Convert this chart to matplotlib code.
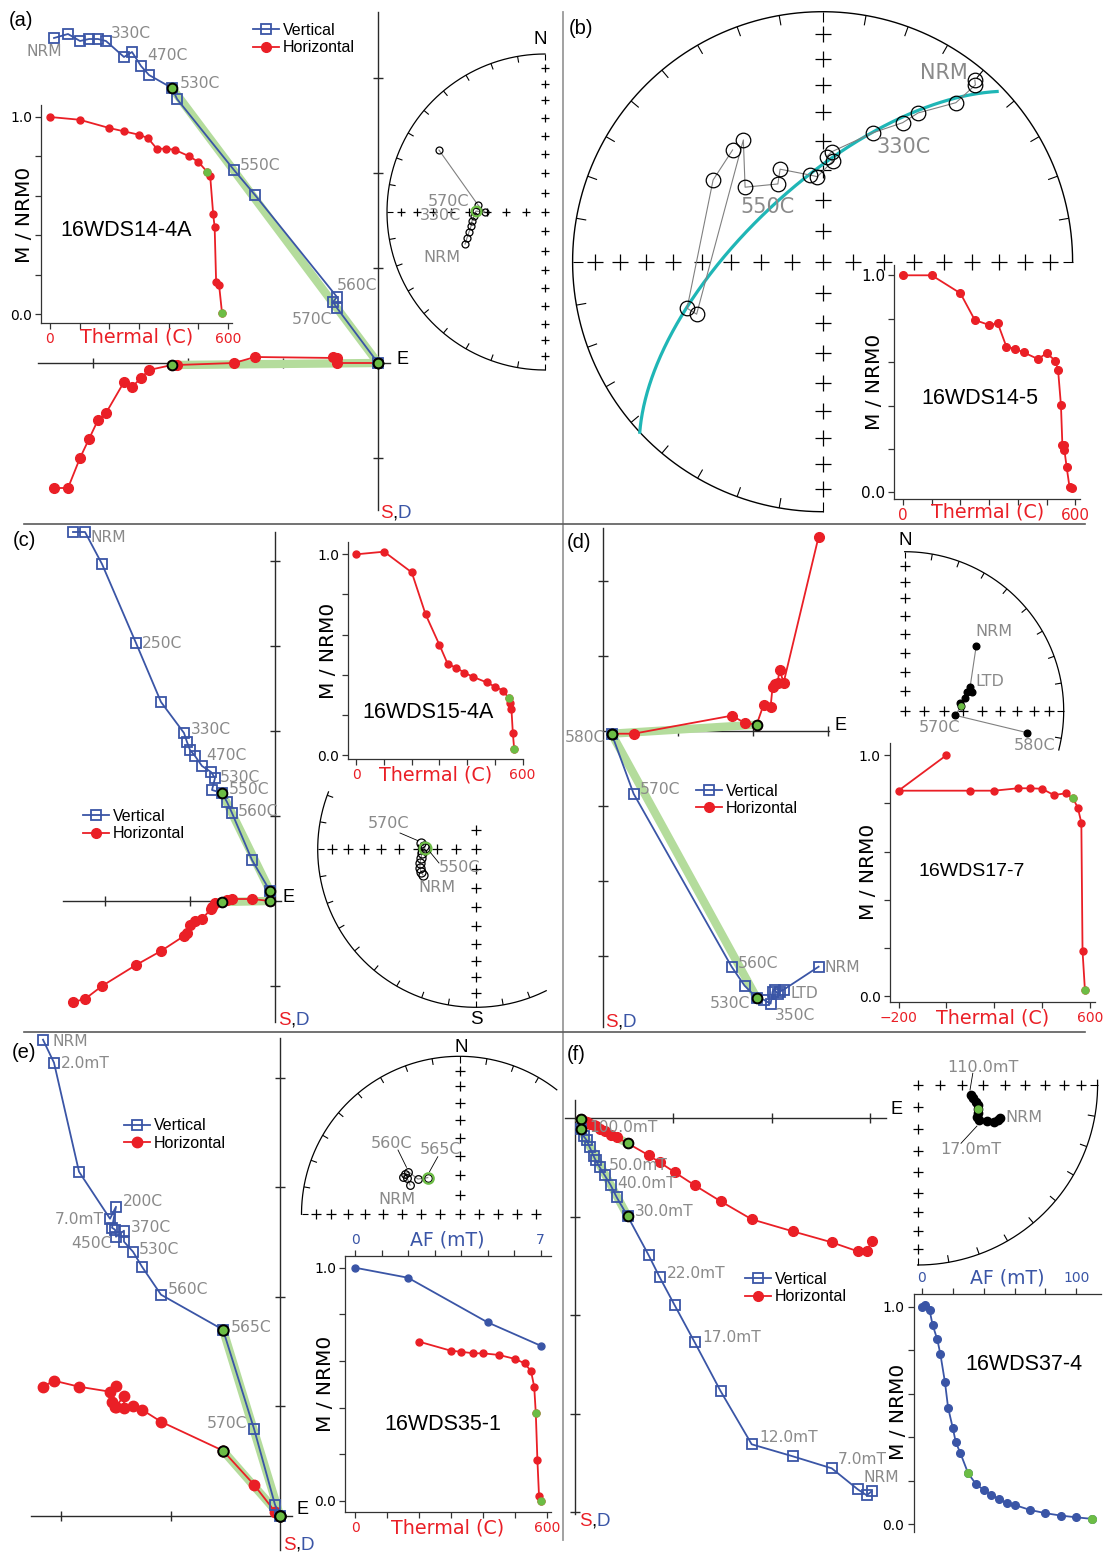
import numpy as np
import matplotlib
matplotlib.use('Agg')
import matplotlib.pyplot as plt
from matplotlib.collections import LineCollection

W, H = 1107, 1555
BLUE = '#3a55a6'; RED = '#ea1f26'; GREEN = '#6cbd45'; FIT = '#b4dc9c'
GRAY = '#8a8a8a'; AXC = '#2a2a2a'; CYAN = '#1fb6b6'; SPC = '#333333'
DEJ = 'DejaVu Sans'; LIB = 'Liberation Sans'

# ======================= DATA =======================
# (a) 16WDS14-4A
zij_a_east = [-324, -310, -298, -289, -280, -272, -254, -246, -237, -229, -206, -201, -144, -123, -41, -45, -41, 0]
zij_a_north = [-125, -125, -95, -76, -57, -50, -19, -24, -15, -7, -2, -2, 0, 6, 5, 6, 0, 0]
zij_a_up = [325, 329, 322, 324, 324, 322, 306, 311, 297, 288, 275, 264, 193, 168, 66, 61, 55, 0]
zij_a_fit = (10, 17)
st_a_x = [-0.506, -0.494, -0.481, -0.468, -0.462, -0.449, -0.437, -0.380, -0.424, -0.671]
st_a_y = [-0.203, -0.165, -0.127, -0.089, -0.057, -0.025, 0.006, 0.0, 0.044, 0.392]
st_a_green = 6
dem_a_T = [0, 100, 200, 250, 300, 330, 360, 390, 420, 470, 500, 530, 540, 550, 555, 560, 570, 580]
dem_a_M = [1.0, 0.986, 0.944, 0.927, 0.910, 0.893, 0.839, 0.839, 0.834, 0.800, 0.772, 0.721, 0.699, 0.508, 0.440, 0.161, 0.146, 0.003]
dem_a_green = [11, 17]

# (b) 16WDS14-5
st_b_x = [0.609, 0.611, 0.533, 0.382, 0.320, 0.202, 0.037, 0.016, 0.041, -0.021, -0.052, -0.170, -0.179, -0.310, -0.317, -0.504, -0.542, -0.438, -0.360]
st_b_y = [0.727, 0.707, 0.636, 0.595, 0.556, 0.516, 0.440, 0.420, 0.403, 0.340, 0.347, 0.370, 0.311, 0.298, 0.487, -0.210, -0.186, 0.327, 0.447]
gc_b_dipdir = 317.0
gc_b_dip = 65.5
dem_b_T = [0, 100, 200, 250, 300, 330, 360, 390, 420, 470, 500, 530, 540, 550, 555, 560, 562, 570, 580, 590]
dem_b_M = [1.0, 1.0, 0.917, 0.794, 0.771, 0.779, 0.671, 0.661, 0.645, 0.614, 0.641, 0.607, 0.564, 0.402, 0.218, 0.218, 0.195, 0.115, 0.023, 0.018]

# (c) 16WDS15-4A
zij_c_east = [-202, -190, -173, -139, -114, -91, -88, -85, -80, -73, -64, -60, -63, -53, -48, -43, -23, -5]
zij_c_north = [-101, -98, -85, -64, -50, -35, -32, -24, -20, -18, -8, -2, -6, -1, 1, 2, 2, 0]
zij_c_up = [369, 369, 337, 258, 199, 168, 159, 151, 145, 135, 129, 123, 111, 108, 99, 88, 41, 10]
zij_c_fit = (13, 17)
st_c_x = [-0.334, -0.346, -0.353, -0.353, -0.346, -0.340, -0.321, -0.327, -0.346]
st_c_y = [-0.162, -0.143, -0.118, -0.086, -0.055, -0.023, 0.008, 0.021, 0.040]
st_c_green = 6
dem_c_T = [0, 100, 200, 250, 300, 330, 360, 390, 420, 470, 500, 530, 550, 555, 560, 565, 570]
dem_c_M = [1.0, 1.013, 0.910, 0.701, 0.549, 0.454, 0.436, 0.411, 0.391, 0.363, 0.342, 0.322, 0.284, 0.259, 0.231, 0.113, 0.030]
dem_c_green = [12, 16]

# (d) 16WDS17-7
zij_d_east = [216, 181, 177, 175, 172, 170, 168, 161, 154, 142, 129, 31, 9]
zij_d_north = [194, 48, 61, 48, 47, 44, 24, 26, 6, 8, 15, -3, -3]
zij_d_up = [-236, -259, -261, -263, -259, -261, -273, -269, -267, -255, -236, -63, -3]
zij_d_fit = (8, 12)
st_d_x = [0.450, 0.411, 0.421, 0.389, 0.378, 0.345, 0.356, 0.318, 0.769]
st_d_y = [0.409, 0.147, 0.116, 0.119, 0.078, 0.047, 0.031, -0.029, -0.138]
st_d_green = 6
dem_d_T = [0, -200, 100, 200, 300, 350, 400, 450, 500, 530, 550, 565, 570, 580]
dem_d_M = [1.0, 0.853, 0.853, 0.853, 0.863, 0.863, 0.861, 0.835, 0.842, 0.821, 0.783, 0.720, 0.187, 0.025]
dem_d_green = [9, 13]

# (e) 16WDS35-1
zij_e_east = [-237, -226, -201, -170, -164, -168, -165, -164, -156, -156, -147, -138, -119, -57, -26, -5, 0]
zij_e_north = [129, 135, 129, 124, 130, 114, 109, 109, 120, 108, 110, 106, 94, 65, 31, 4, 0]
zij_e_up = [476, 453, 344, 297, 309, 288, 286, 279, 285, 274, 264, 249, 221, 186, 87, 11, 0]
zij_e_fit = (13, 16)
st_e_x = [-0.313, -0.331, -0.358, -0.342, -0.324, -0.263, -0.201]
st_e_y = [0.185, 0.228, 0.238, 0.255, 0.270, 0.223, 0.232]
st_e_green = 6
dem_e_T = [200, 300, 330, 370, 400, 450, 500, 530, 550, 560, 565, 570, 575, 580]
dem_e_M = [0.683, 0.644, 0.640, 0.633, 0.633, 0.626, 0.609, 0.590, 0.557, 0.490, 0.376, 0.176, 0.023, 0.001]
dem_e_green = [10, 13]
dem_e_AF = [0, 2, 5, 7]
dem_e_AFM = [1.0, 0.957, 0.766, 0.666]

# (f) 16WDS37-4
zij_f_east = [297, 292, 283, 257, 218, 177, 146, 120, 100, 85, 74, 53, 42, 36, 30, 25, 21, 19, 15, 12, 9, 6]
zij_f_north = [-123, -133, -133, -124, -113, -101, -83, -67, -54, -44, -37, -25, -19, -17, -13, -11, -8, -7, -6, -4, -3, -1]
zij_f_up = [-373, -377, -371, -350, -338, -326, -273, -224, -187, -159, -137, -98, -79, -67, -57, -49, -42, -38, -29, -22, -18, -11]
zij_f_fit = (11, 21)
st_f_x = [0.459, 0.446, 0.427, 0.388, 0.339, 0.330, 0.334, 0.334, 0.334, 0.324, 0.310, 0.295]
st_f_y = [-0.185, -0.194, -0.204, -0.198, -0.194, -0.179, -0.157, -0.135, -0.111, -0.093, -0.074, -0.056]
st_f_green = 7
dem_f_AF = [0, 2, 5, 7, 10, 12, 15, 17, 20, 22, 25, 30, 35, 40, 45, 50, 55, 60, 70, 80, 90, 100, 110]
dem_f_M = [1.0, 1.008, 0.985, 0.916, 0.850, 0.783, 0.652, 0.536, 0.444, 0.377, 0.326, 0.234, 0.185, 0.158, 0.135, 0.116, 0.096, 0.089, 0.066, 0.051, 0.040, 0.032, 0.025]
dem_f_green = [11, 22]

# ======================= HELPERS =======================
fig = plt.figure(figsize=(W / 100, H / 100), dpi=100)
fig.patch.set_facecolor('white')


def px_axes(l, t, r, b):
    ax = fig.add_axes([l / W, 1 - b / H, (r - l) / W, (b - t) / H])
    ax.patch.set_visible(False)
    return ax


def lmap(p0, v0, p1, v1, p):
    return v0 + (p - p0) * (v1 - v0) / (p1 - p0)


def zijderveld(origin, box, tick, xr, yr, east, north, up, fit, ms=7):
    l, t, r, b = box
    ox, oy = origin
    ax = px_axes(l, t, r, b)
    ax.set_xlim(l - ox, r - ox)
    ax.set_ylim(oy - b, oy - t)
    ax.axis('off')
    ax.plot(xr, [0, 0], color=AXC, lw=1.0, clip_on=False, zorder=1)
    ax.plot([0, 0], yr, color=AXC, lw=1.0, clip_on=False, zorder=1)
    kx = [k * tick for k in range(-6, 7) if k != 0 and xr[0] < k * tick < xr[1]]
    ky = [k * tick for k in range(-6, 7) if k != 0 and yr[0] < k * tick < yr[1]]
    ax.plot(kx, [0] * len(kx), ls='none', marker='|', ms=7, mew=1.0, color=AXC, clip_on=False)
    ax.plot([0] * len(ky), ky, ls='none', marker='_', ms=7, mew=1.0, color=AXC, clip_on=False)
    g0, g1 = fit
    ax.plot([east[g0], east[g1]], [up[g0], up[g1]], color=FIT, lw=6, zorder=2, clip_on=False)
    ax.plot([east[g0], east[g1]], [north[g0], north[g1]], color=FIT, lw=6, zorder=2, clip_on=False)
    hh, = ax.plot(east, north, color=RED, lw=1.3, marker='o', ms=ms, mec=RED, zorder=3, clip_on=False)
    hv, = ax.plot(east, up, color=BLUE, lw=1.3, marker='s', ms=ms, mfc='none', mec=BLUE, mew=1.3,
                  zorder=4, clip_on=False)
    for i in fit:
        ax.plot([east[i], east[i]], [north[i], up[i]], ls='none', marker='o', ms=ms, mfc=GREEN,
                mec='black', mew=1.4, zorder=5, clip_on=False)
    return ax, hv, hh


def legend(ax, hv, hh, x, y):
    ax.legend([hv, hh], ['Vertical', 'Horizontal'], loc='upper left',
              bbox_to_anchor=(x / W, 1 - y / H), bbox_transform=fig.transFigure, frameon=False,
              prop=dict(family=LIB, size=11.5), handlelength=1.6, handletextpad=0.25,
              labelspacing=0.15, borderpad=0, borderaxespad=0)


EA = np.sqrt(2) * np.sin(np.radians(5 * np.arange(1, 9)))


def stereonet(center, R, arc, arms, cms=6.5, lw=0.9):
    cx, cy = center
    ax = px_axes(cx - 1.1 * R, cy - 1.1 * R, cx + 1.1 * R, cy + 1.1 * R)
    ax.set_xlim(-1.1, 1.1)
    ax.set_ylim(-1.1, 1.1)
    ax.axis('off')
    th = np.radians(np.linspace(arc[0], arc[1], 500))
    ax.plot(np.cos(th), np.sin(th), color='k', lw=lw, clip_on=False)
    segs = []
    for d in range(int(np.ceil(arc[0] / 10.0)) * 10, int(np.floor(arc[1])) + 1, 10):
        a = np.radians(d)
        segs.append([(np.cos(a), np.sin(a)), (0.96 * np.cos(a), 0.96 * np.sin(a))])
    ax.add_collection(LineCollection(segs, colors='k', linewidths=0.8))
    dirs = {'N': (0, 1), 'S': (0, -1), 'E': (1, 0), 'W': (-1, 0)}
    xs, ys = [0.0], [0.0]
    for k, n in arms.items():
        dx, dy = dirs[k]
        xs += list(dx * EA[:n])
        ys += list(dy * EA[:n])
    ax.plot(xs, ys, ls='none', marker='+', ms=cms, mew=0.9, color='k', clip_on=False)
    return ax


def st_points(ax, x, y, g, ms, filled, gstyle):
    ax.plot(x, y, color='#808080', lw=0.8, zorder=3, clip_on=False)
    if filled:
        ax.plot(x, y, ls='none', marker='o', ms=ms, mfc='k', mec='k', zorder=4, clip_on=False)
    else:
        ax.plot(x, y, ls='none', marker='o', ms=ms, mfc='none', mec='k', mew=0.9, zorder=4, clip_on=False)
    if gstyle == 'ring':
        ax.plot([x[g]], [y[g]], ls='none', marker='o', ms=ms + 2, mfc='none', mec=GREEN, mew=1.6, zorder=5)
    elif gstyle == 'dot':
        ax.plot([x[g]], [y[g]], ls='none', marker='o', ms=ms - 1, mfc=GREEN, mec=GREEN, zorder=5)


def demag_axes(box, xref, yref, xticks, xlabels, xcolor, top=False, lsize=10):
    l, t, r, b = box
    ax = px_axes(l, t, r, b)
    (p0, v0), (p1, v1) = xref
    ax.set_xlim(lmap(p0, v0, p1, v1, l), lmap(p0, v0, p1, v1, r))
    (q0, w0), (q1, w1) = yref
    ax.set_ylim(lmap(q0, w0, q1, w1, b), lmap(q0, w0, q1, w1, t))
    ax.spines['right'].set_visible(False)
    if top:
        ax.spines['bottom'].set_visible(False)
        ax.xaxis.set_ticks_position('top')
        ax.xaxis.set_label_position('top')
    else:
        ax.spines['top'].set_visible(False)
    for s in ax.spines.values():
        s.set_linewidth(0.9)
        s.set_color(SPC)
    ax.set_xticks(xticks)
    ax.set_xticklabels(xlabels)
    ax.set_yticks([0, 0.2, 0.4, 0.6, 0.8, 1.0])
    ax.set_yticklabels(['0.0', '', '', '', '', '1.0'])
    ax.tick_params(direction='out', length=4, width=0.9, labelsize=lsize, pad=2.5, color=SPC)
    ax.tick_params(axis='x', labelcolor=xcolor)
    return ax


def ends(vals, first, last):
    return [first if i == 0 else (last if i == len(vals) - 1 else '') for i in range(len(vals))]


def demag_plot(ax, T, M, green, color, ms=5):
    ax.plot(T, M, color=color, lw=1.3, marker='o', ms=ms, mec=color, clip_on=False, zorder=3)
    ax.plot([T[i] for i in green], [M[i] for i in green], ls='none', marker='o', ms=ms,
            mfc=GREEN, mec=GREEN, clip_on=False, zorder=4)


# ======================= PANEL (a) =======================
ax, hv, hh = zijderveld((378, 363), (0, 0, 560, 520), 95, (-340, 12), (-147, 351),
                        zij_a_east, zij_a_north, zij_a_up, zij_a_fit)
legend(ax, hv, hh, 253, 23)
sa = stereonet((545, 212), 158, (90, 270), {'N': 8, 'S': 8, 'W': 8}, cms=6)
st_points(sa, st_a_x, st_a_y, st_a_green, 5, False, 'ring')
ia = demag_axes((41, 105, 232, 323), ((50, 0), (228, 600)), ((117, 1.0), (314, 0.0)),
                list(range(0, 601, 100)), ends(range(0, 601, 100), '0', '600'), RED)
demag_plot(ia, dem_a_T, dem_a_M, dem_a_green, RED)

# ======================= PANEL (b) =======================
sb = stereonet((822.6, 261.7), 250, (0, 270), {'N': 8, 'S': 8, 'E': 8, 'W': 8}, cms=11, lw=1.0)
# great circle of the remagnetisation plane (equal-area, lower hemisphere)
dd, dp = np.radians(gc_b_dipdir), np.radians(gc_b_dip)
strike = np.array([np.sin(dd + np.pi / 2), np.cos(dd + np.pi / 2), 0.0])
dipv = np.array([np.sin(dd) * np.cos(dp), np.cos(dd) * np.cos(dp), np.sin(dp)])
tt = np.linspace(0.054, np.pi, 400)
v = np.outer(np.cos(tt), strike) + np.outer(np.sin(tt), dipv)
hz = np.hypot(v[:, 0], v[:, 1])
rr = np.sqrt(np.clip(1 - v[:, 2], 0, None))
sb.plot(rr * v[:, 0] / hz, rr * v[:, 1] / hz, color=CYAN, lw=2.3, zorder=2)
st_points(sb, st_b_x, st_b_y, 0, 10.5, False, None)
ib = demag_axes((894, 265, 1080.5, 499), ((903, 0), (1075.3, 600)), ((275.3, 1.0), (492.3, 0.0)),
                list(range(0, 601, 100)), ends(range(0, 601, 100), '0', '600'), RED, lsize=11)
demag_plot(ib, dem_b_T, dem_b_M, [], RED, ms=5.5)

# ======================= PANEL (c) =======================
ax, hv, hh = zijderveld((275, 901), (0, 525, 560, 1030), 85, (-212, 6), (-121, 369),
                        zij_c_east, zij_c_north, zij_c_up, zij_c_fit)
legend(ax, hv, hh, 83, 809)
sc = stereonet((475.7, 849.3), 158, (158.7, 296.5), {'N': 1, 'S': 8, 'W': 8}, cms=6.5)
st_points(sc, st_c_x, st_c_y, st_c_green, 6.5, False, 'ring')
ic = demag_axes((348, 541.7, 523, 759.3), ((356.4, 0), (522.5, 600)), ((554.3, 1.0), (755.3, 0.0)),
                list(range(0, 601, 100)), ends(range(0, 601, 100), '0', '600'), RED)
demag_plot(ic, dem_c_T, dem_c_M, dem_c_green, RED)

# ======================= PANEL (d) =======================
ax, hv, hh = zijderveld((602.6, 730.7), (563, 525, 1107, 1030), 75, (0, 226), (-296, 203),
                        zij_d_east, zij_d_north, zij_d_up, zij_d_fit)
legend(ax, hv, hh, 696, 783.5)
sd_ = stereonet((904.7, 710.7), 159, (-14.3, 90), {'N': 8, 'E': 8}, cms=6.5)
st_points(sd_, st_d_x, st_d_y, st_d_green, 4.8, True, 'dot')
idd = demag_axes((889.7, 742.7, 1094.5, 1001.7), ((898.5, -200), (1089.7, 600)), ((755.3, 1.0), (996, 0.0)),
                 [-200, 0, 200, 400, 600], ['\u2212200', '', '', '', '600'], RED)
demag_plot(idd, dem_d_T, dem_d_M, dem_d_green, RED)

# ======================= PANEL (e) =======================
ax, hv, hh = zijderveld((280, 1515.7), (0, 1032, 560, 1555), 109.5, (-249, 12), (-34, 478),
                        zij_e_east, zij_e_north, zij_e_up, zij_e_fit, ms=7.5)
legend(ax, hv, hh, 124, 1118.5)
se = stereonet((459.5, 1214.3), 158, (52, 180), {'N': 8, 'W': 8, 'E': 4}, cms=6.5)
st_points(se, st_e_x, st_e_y, st_e_green, 5.5, False, 'ring')
ie = demag_axes((345.2, 1256, 550.6, 1512.3), ((355, 0), (547, 600)), ((1267.7, 1.0), (1501, 0.0)),
                list(range(0, 601, 100)), ends(range(0, 601, 100), '0', '600'), RED)
demag_plot(ie, dem_e_T, dem_e_M, dem_e_green, RED)
ie2 = ie.twiny()
ie2.patch.set_visible(False)
ie2.set_xlim(lmap(355, 0, 540.5, 7, 345.2), lmap(355, 0, 540.5, 7, 550.6))
for s in ['left', 'right', 'bottom']:
    ie2.spines[s].set_visible(False)
ie2.spines['top'].set_linewidth(0.9)
ie2.spines['top'].set_color(SPC)
ie2.set_xticks(list(range(0, 8)))
ie2.set_xticklabels(ends(range(0, 8), '0', '7'))
ie2.tick_params(direction='out', length=4, width=0.9, labelsize=10, pad=2.5, labelcolor=BLUE, color=SPC)
demag_plot(ie2, dem_e_AF, dem_e_AFM, [], BLUE)

# ======================= PANEL (f) =======================
ax, hv, hh = zijderveld((574.7, 1118.3), (563, 1032, 1107, 1555), 98.5, (-10, 311), (-396, 18),
                        zij_f_east, zij_f_north, zij_f_up, zij_f_fit)
legend(ax, hv, hh, 745, 1272)
sf = stereonet((917.6, 1085), 180, (-90, 1.5), {'E': 8, 'S': 8}, cms=7.5)
st_points(sf, st_f_x, st_f_y, st_f_green, 6, True, 'dot')
iff = demag_axes((913.5, 1294.3, 1100.8, 1532), ((921.8, 0), (1076.4, 100)), ((1306.7, 1.0), (1524.3, 0.0)),
                 list(range(0, 101, 20)), ends(range(0, 101, 20), '0', '100'), BLUE, top=True)
demag_plot(iff, dem_f_AF, dem_f_M, dem_f_green, BLUE, ms=5.5)

# ======================= OVERLAY (text, separators) =======================
base = fig.add_axes([0, 0, 1, 1], zorder=20)
base.set_xlim(0, W)
base.set_ylim(H, 0)
base.axis('off')
base.patch.set_visible(False)

base.plot([562.5, 562.5], [12, 1540], color='#9a9a9a', lw=1.3)
base.plot([24, 1085], [523.5, 523.5], color='#5a5a5a', lw=1.2)
base.plot([24, 1085], [1031.5, 1031.5], color='#5a5a5a', lw=1.2)


def txt(x, y, s, size, color='black', ha='left', va='center', family=DEJ, rot=0):
    base.text(x, y, s, fontsize=size, color=color, ha=ha, va=va, family=family, rotation=rot)


def lead(x0, y0, x1, y1):
    base.plot([x0, x1], [y0, y1], color='k', lw=0.6)


def sdlab(x, y):
    txt(x, y, 'S', 13.5, RED, family=LIB)
    txt(x + 12.5, y, ',', 13.5, 'k', family=LIB)
    txt(x + 17.5, y, 'D', 13.5, BLUE, family=LIB)


# panel letters
for s, x, y in [('(a)', 9, 21), ('(b)', 569, 28), ('(c)', 13, 541), ('(d)', 567, 542),
                ('(e)', 12, 1053), ('(f)', 567, 1055)]:
    txt(x, y, s, 14.5, family=LIB)

# sample names
for s, x, y, sz in [('16WDS14-4A', 60, 231, 15.5), ('16WDS14-5', 921, 399, 15.5),
                    ('16WDS15-4A', 362, 713, 15.5), ('16WDS17-7', 919, 871, 14),
                    ('16WDS35-1', 384, 1425, 15.5), ('16WDS37-4', 965, 1365, 15.5)]:
    txt(x, y, s, sz, family=LIB)

# M / NRM0
for x, y in [(25, 215), (875, 382), (329, 651), (868, 872), (325.5, 1384), (898, 1412)]:
    txt(x, y, 'M / NRM0', 14.5, ha='center', rot=90)

# Thermal / AF axis titles
for x, y in [(136.5, 337), (987.6, 512), (435.7, 775), (992.7, 1018), (447.7, 1528)]:
    txt(x, y, 'Thermal (C)', 13.8, RED, ha='center')
txt(447.7, 1239.5, 'AF (mT)', 13.6, BLUE, ha='center')
txt(1007.5, 1278.5, 'AF (mT)', 13.6, BLUE, ha='center')

# axis direction labels
for x, y in [(396, 359), (282, 897), (834, 725), (296, 1510), (891, 1110)]:
    txt(x, y, 'E', 13, family=LIB)
for x, y in [(540.5, 40), (905, 540.5), (461, 1047.5)]:
    txt(x, y, 'N', 13.5, ha='center', family=LIB)
txt(476, 1020, 'S', 13.5, ha='center', family=LIB)
for x, y in [(380, 514), (278, 1020.5), (605, 1022.5), (283, 1545), (579, 1521.7)]:
    sdlab(x, y)

# step labels
labs_a = [('NRM', 26, 52), ('330C', 111, 34), ('470C', 147, 55), ('530C', 180, 84), ('550C', 240, 166),
          ('560C', 337, 285), ('570C', 292, 319)]
labs_c = [('NRM', 91, 537), ('250C', 142, 643), ('330C', 191, 729), ('470C', 206, 756), ('530C', 220, 777),
          ('550C', 229, 789), ('560C', 237.5, 811)]
labs_d = [('580C', 565, 738), ('570C', 640, 789), ('560C', 738, 963), ('530C', 710, 1003), ('350C', 775, 1016),
          ('LTD', 790, 993), ('NRM', 825, 967)]
labs_e = [('NRM', 52, 1042), ('2.0mT', 61, 1063), ('200C', 122.5, 1202), ('7.0mT', 55, 1219), ('370C', 130.5, 1228),
          ('450C', 71.4, 1243), ('530C', 138.7, 1249), ('560C', 167.6, 1289), ('565C', 230.6, 1327),
          ('570C', 207, 1424)]
labs_f = [('100.0mT', 589.7, 1128), ('50.0mT', 609, 1165), ('40.0mT', 617.6, 1183), ('30.0mT', 635, 1212),
          ('22.0mT', 666.4, 1273), ('17.0mT', 702.4, 1338), ('12.0mT', 759.6, 1437), ('7.0mT', 837.4, 1460),
          ('NRM', 863.6, 1478)]
for group in [labs_a, labs_c, labs_d, labs_e, labs_f]:
    for s, x, y in group:
        txt(x, y, s, 11.2, GRAY)

# stereonet labels
for s, x, y in [('570C', 428, 202), ('330C', 420, 215), ('NRM', 423, 258),
                ('570C', 368, 824), ('550C', 439, 868), ('NRM', 418, 888),
                ('NRM', 975, 631), ('LTD', 975, 682), ('570C', 919, 728), ('580C', 1014, 745),
                ('560C', 371, 1143), ('565C', 420, 1149), ('NRM', 378, 1199),
                ('110.0mT', 947, 1067), ('NRM', 1005, 1117), ('17.0mT', 940, 1150)]:
    txt(x, y, s, 11.5, GRAY)
for s, x, y in [('NRM', 920, 73), ('330C', 876, 147), ('550C', 740, 207)]:
    txt(x, y, s, 15, GRAY)
lead(400, 833, 418, 840.7)
lead(430, 852, 439, 863)
lead(398, 1150, 406.5, 1167.3)
lead(437.8, 1156.7, 429.5, 1171.7)
lead(972.8, 1073.3, 970, 1090)
lead(961, 1143.3, 977, 1126)

fig.savefig('out.png', dpi=100)
